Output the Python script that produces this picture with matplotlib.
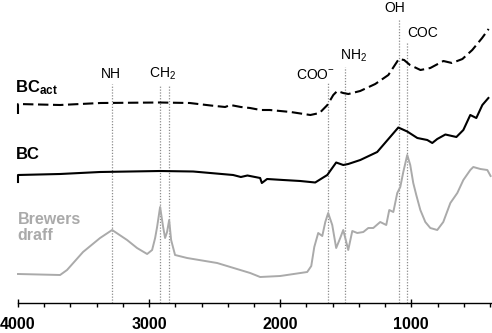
import matplotlib
matplotlib.use("Agg")
import matplotlib.pyplot as plt
from matplotlib.ticker import MultipleLocator

plt.rcParams["font.family"] = ["Liberation Sans", "DejaVu Sans"]
plt.rcParams["mathtext.fontset"] = "custom"
plt.rcParams["mathtext.rm"] = "Liberation Sans"
plt.rcParams["mathtext.it"] = "Liberation Sans:italic"
plt.rcParams["mathtext.bf"] = "Liberation Sans:bold"

# FTIR spectra, offset for display (wavenumber in cm-1, stacked absorbance units)
bc_act_wn = [4000, 4000, 3680, 3370, 2920, 2690, 2530, 2420, 2380, 2300, 2230, 2150,
             2080, 1920, 1770, 1700, 1640, 1595, 1565, 1520, 1480, 1390, 1275, 1175,
             1095, 1055, 1010, 930, 855, 755, 690, 610, 535, 460, 410]
bc_act_ab = [189, 199, 198, 200, 200.5, 200, 197.5, 196, 198, 196, 195, 193,
             193, 191, 188, 190, 198, 208, 212, 210, 209, 212, 219, 228,
             244, 243, 238, 233, 235, 242, 240, 244, 253, 265, 274]

bc_wn = [4000, 4000, 3680, 3374, 2916, 2664, 2359, 2300, 2250, 2153, 2140, 2100,
         1977, 1847, 1733, 1641, 1573, 1519, 1481, 1389, 1260, 1099, 1031, 954,
         878, 840, 802, 740, 656, 603, 550, 504, 458, 412]
bc_ab = [121, 128, 129, 131, 132, 131.5, 128, 126, 127.5, 125, 120, 124,
         123, 122, 120.5, 128, 140.5, 138, 139, 143, 151, 175.5, 171.5, 165,
         163, 160, 164, 168.5, 166, 173, 188, 185, 198, 205]

draff_wn = [4000, 3679, 3626, 3504, 3374, 3282, 3168, 3092, 3015, 2977, 2954, 2939,
            2916, 2893, 2878, 2863, 2847, 2832, 2802, 2710, 2481, 2229, 2153, 2000,
            1794, 1763, 1740, 1710, 1679, 1656, 1634, 1603, 1573, 1542, 1519, 1496,
            1481, 1450, 1412, 1366, 1328, 1290, 1237, 1191, 1168, 1137, 1107, 1084,
            1061, 1031, 1008, 985, 962, 931, 893, 855, 802, 756, 702, 649,
            603, 550, 527, 473, 420, 395]
draff_ab = [29, 28, 33, 51, 65, 73, 63, 55, 49, 53, 65, 76,
            96, 76, 65, 71, 83, 63, 48, 45, 40, 30, 26, 27,
            31, 37, 56, 70, 67, 81, 90, 78, 55, 65, 73, 61,
            53, 72, 70, 71, 75, 75, 81, 78, 93, 91, 110, 116,
            131, 148, 138, 120, 108, 93, 81, 75, 73, 81, 100, 110,
            123, 133, 136, 134, 133, 127]

# Band assignments: (label, wavenumbers of marker lines, top of marker lines)
band_labels = ["NH", "CH$_2$", "COO$^{-}$", "NH$_2$", "OH", "COC"]
band_lines = [[3285], [2920, 2850], [1636], [1505], [1097], [1030]]
band_line_tops = [219, 217, 220, 236, 283, 260]
band_label_pos = [(3295, 225), (2895, 225), (1729, 224), (1440, 243), (1130, 291), (912, 266)]

xticks_major = [4000, 3000, 2000, 1000]

fig = plt.figure(figsize=(4.92, 3.33), dpi=100)
ax = fig.add_axes([18 / 492, 30 / 333, 473 / 492, 303 / 333])
ax.set_xlim(4000, 392)
ax.set_ylim(0, 303)

dot_col = "#8c8c8c"
for wns, top in zip(band_lines, band_line_tops):
    for w in wns:
        ax.plot([w, w], [0, top], color=dot_col, lw=0.9, linestyle=(0, (1, 1.3)),
                clip_on=False, zorder=1)

ax.plot(draff_wn, draff_ab, color="#aaaaaa", lw=1.4, clip_on=False, zorder=2)
ax.plot(bc_wn, bc_ab, color="black", lw=1.5, clip_on=False, zorder=3)
ax.plot(bc_act_wn, bc_act_ab, color="black", lw=1.5, linestyle=(0, (5, 2.2)),
        clip_on=False, zorder=3)

for lab, (x, y) in zip(band_labels, band_label_pos):
    ax.text(x, y, lab, fontsize=10, ha="center", va="baseline", color="black")

ax.text(4025, 211, r"$\mathbf{BC_{act}}$", fontsize=12, ha="left", va="baseline")
ax.text(4020, 144, "BC", fontsize=12, fontweight="bold", ha="left", va="baseline")
ax.text(4003, 63, "Brewers\ndraff", fontsize=11.5, fontweight="bold", color="#aaaaaa",
        ha="left", va="baseline", linespacing=1.05)

for s in ["left", "right", "top"]:
    ax.spines[s].set_visible(False)
ax.spines["bottom"].set_linewidth(1.0)
ax.set_yticks([])
ax.set_xticks(xticks_major)
ax.set_xticklabels([str(t) for t in xticks_major], fontsize=11.5, fontweight="bold")
ax.xaxis.set_minor_locator(MultipleLocator(200))
ax.tick_params(axis="x", which="major", direction="inout", length=6, width=1.0, pad=7)
ax.tick_params(axis="x", which="minor", direction="out", length=2.8, width=1.0)
ax.patch.set_alpha(0)

fig.savefig("out.png", dpi=100)
